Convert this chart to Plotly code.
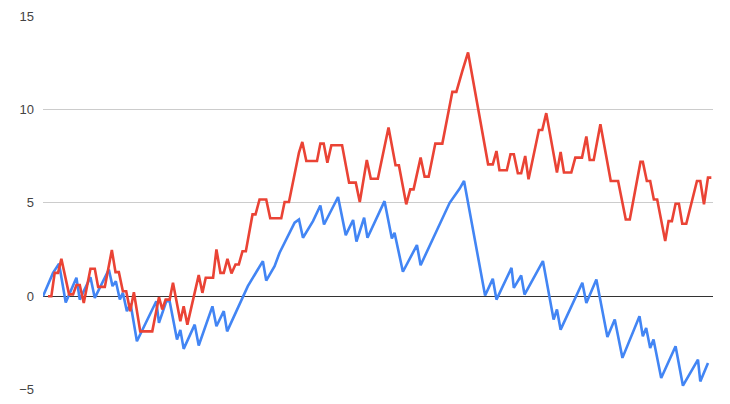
import plotly.graph_objects as go

# Series values (x = step index, y = value)
blue_x = [0, 3.0, 4.8, 6.8, 10.0, 11.0, 14.2, 15.5, 19.7, 20.8, 21.8, 23.0, 23.9, 25.1, 26.2, 28.1,
          33.9, 34.7, 36.9, 37.9, 40.1, 41.1, 42.1, 45.4, 46.6, 50.7, 51.9, 54.1, 55.1,
          61.3, 65.8, 66.8, 69.3, 70.8, 75.3, 76.6, 77.8, 80.8, 83.0, 84.1, 88.3, 90.6,
          92.8, 93.8, 96.1, 97.1, 102.2, 104.4, 105.2, 107.7, 111.9, 113.0, 121.7, 124.7,
          126.0, 132.3, 134.6, 135.7, 140.2, 140.9, 143.1, 144.1, 149.6, 152.8, 153.8,
          154.9, 161.4, 162.6, 165.6, 168.9, 171.1, 173.4, 178.5, 179.5, 180.5, 181.7,
          182.7, 185.0, 189.3, 191.5, 196.0, 196.7, 199.0]
blue_y = [0, 1.25, 1.74, -0.34, 0.99, -0.18, 1.02, -0.09, 1.43, 0.54, 0.8, -0.18, 0.18, -0.8, -0.4, -2.41,
          -0.27, -1.43, -0.27, -0.27, -2.32, -1.8, -2.82, -1.52, -2.64, -0.54, -1.61, -0.8, -1.88,
          0.54, 1.88, 0.84, 1.61, 2.33, 3.94, 4.11, 3.13, 4.02, 4.86, 3.84, 5.31, 3.27,
          4.08, 2.92, 4.2, 3.13, 5.09, 3.09, 3.4, 1.31, 2.74, 1.66, 5.0, 5.76,
          6.17, 0.04, 0.93, -0.18, 1.52, 0.45, 1.11, 0.09, 1.88, -1.25, -0.71,
          -1.79, 0.72, -0.36, 0.9, -2.18, -1.25, -3.3, -1.07, -2.14, -1.7, -2.77,
          -2.32, -4.38, -2.68, -4.79, -3.39, -4.56, -3.57]

red_x = [1.5, 2.5, 3.5, 4.5, 5.5, 7.8, 9.0, 10.0, 11.0, 12.2, 14.2, 15.5, 16.5, 18.5, 20.6, 21.7,
         22.7, 23.9, 24.9, 26.1, 27.2, 29.1, 32.7, 34.7, 35.7, 36.7, 37.9, 38.9, 41.1, 42.1,
         43.2, 46.6, 47.7, 48.7, 50.9, 51.9, 53.1, 54.1, 55.2, 56.4, 57.6, 58.6, 59.7, 60.7,
         62.7, 63.6, 64.8, 66.8, 68.0, 71.3, 72.3, 73.6, 76.6, 77.6, 78.8, 82.0, 83.0, 84.0,
         85.1, 86.3, 89.5, 91.6, 93.6, 94.8, 96.9, 98.1, 100.2, 103.4, 105.5, 106.5, 108.7,
         109.9, 110.9, 113.0, 114.2, 115.4, 117.4, 119.5, 122.5, 123.7, 125.5, 127.2, 133.2,
         134.6, 135.7, 136.6, 138.8, 139.9, 140.9, 142.1, 143.1, 144.3, 145.3, 148.4, 149.4,
         150.6, 153.8, 154.9, 155.9, 158.1, 159.3, 161.3, 162.6, 163.6, 164.8, 166.8, 169.9,
         172.1, 174.4, 175.6, 178.8, 179.5, 180.7, 181.7, 182.8, 183.8, 186.2, 187.2, 188.2,
         189.3, 190.3, 191.3, 192.5, 195.7, 196.7, 197.8, 199.0, 200.0]
red_y = [0, 0, 1.25, 1.25, 2.0, 0.1, 0.1, 0.6, 0.6, -0.36, 1.47, 1.47, 0.5, 0.5, 2.47, 1.29,
         1.29, 0.27, 0.27, -0.8, 0.21, -1.88, -1.88, -0.05, -0.71, -0.18, -0.18, 0.72, -1.34, -0.54,
         -1.52, 1.13, 0.18, 0.99, 0.99, 2.5, 1.25, 1.25, 2.0, 1.22, 1.7, 1.7, 2.41, 2.41,
         4.38, 4.38, 5.18, 5.18, 4.17, 4.17, 5.04, 5.04, 7.69, 8.26, 7.24, 7.24, 8.17, 8.17,
         7.15, 8.08, 8.08, 6.08, 6.08, 5.04, 7.29, 6.29, 6.29, 9.03, 7.01, 7.01, 4.92,
         5.72, 5.72, 7.42, 6.4, 6.4, 8.17, 8.17, 10.94, 10.94, 12.06, 13.05, 7.06,
         7.06, 7.77, 6.74, 6.74, 7.6, 7.6, 6.58, 6.58, 7.51, 6.26, 8.9, 8.9,
         9.8, 6.62, 7.72, 6.62, 6.62, 7.42, 7.42, 8.55, 7.29, 7.29, 9.21, 6.17,
         6.17, 4.11, 4.11, 7.19, 7.19, 6.17, 6.17, 5.18, 5.18, 2.95, 4.02, 4.02,
         4.95, 4.95, 3.88, 3.88, 6.17, 6.17, 4.92, 6.35, 6.35]

y_ticks = [-5, 0, 5, 10, 15]

fig = go.Figure()
fig.add_trace(go.Scatter(x=blue_x, y=blue_y, mode="lines",
                         line=dict(color="#4285F4", width=2.6), showlegend=False))
fig.add_trace(go.Scatter(x=red_x, y=red_y, mode="lines",
                         line=dict(color="#EA4335", width=2.6), showlegend=False))

# page body has an 8px margin, so the figure is sized to fit the 730x404 window
fig.update_layout(
    width=714, height=388,
    margin=dict(l=35, r=9, t=8, b=6, pad=0),
    paper_bgcolor="white", plot_bgcolor="white",
    font=dict(family="Liberation Sans, Arial, sans-serif", size=13, color="#444444"),
    xaxis=dict(range=[0, 200.5], showgrid=False, zeroline=False, showticklabels=False,
               showline=False, ticks="", automargin=False),
    yaxis=dict(range=[-5.02, 15], tickvals=y_ticks, showgrid=True, gridcolor="#CCCCCC",
               gridwidth=1, zeroline=True, zerolinecolor="#333333", zerolinewidth=1,
               showline=False, ticks="", ticklabelstandoff=8, automargin=False,
               ticklabeloverflow="allow"),
)

fig.write_html("out.html", config={"displayModeBar": False})
